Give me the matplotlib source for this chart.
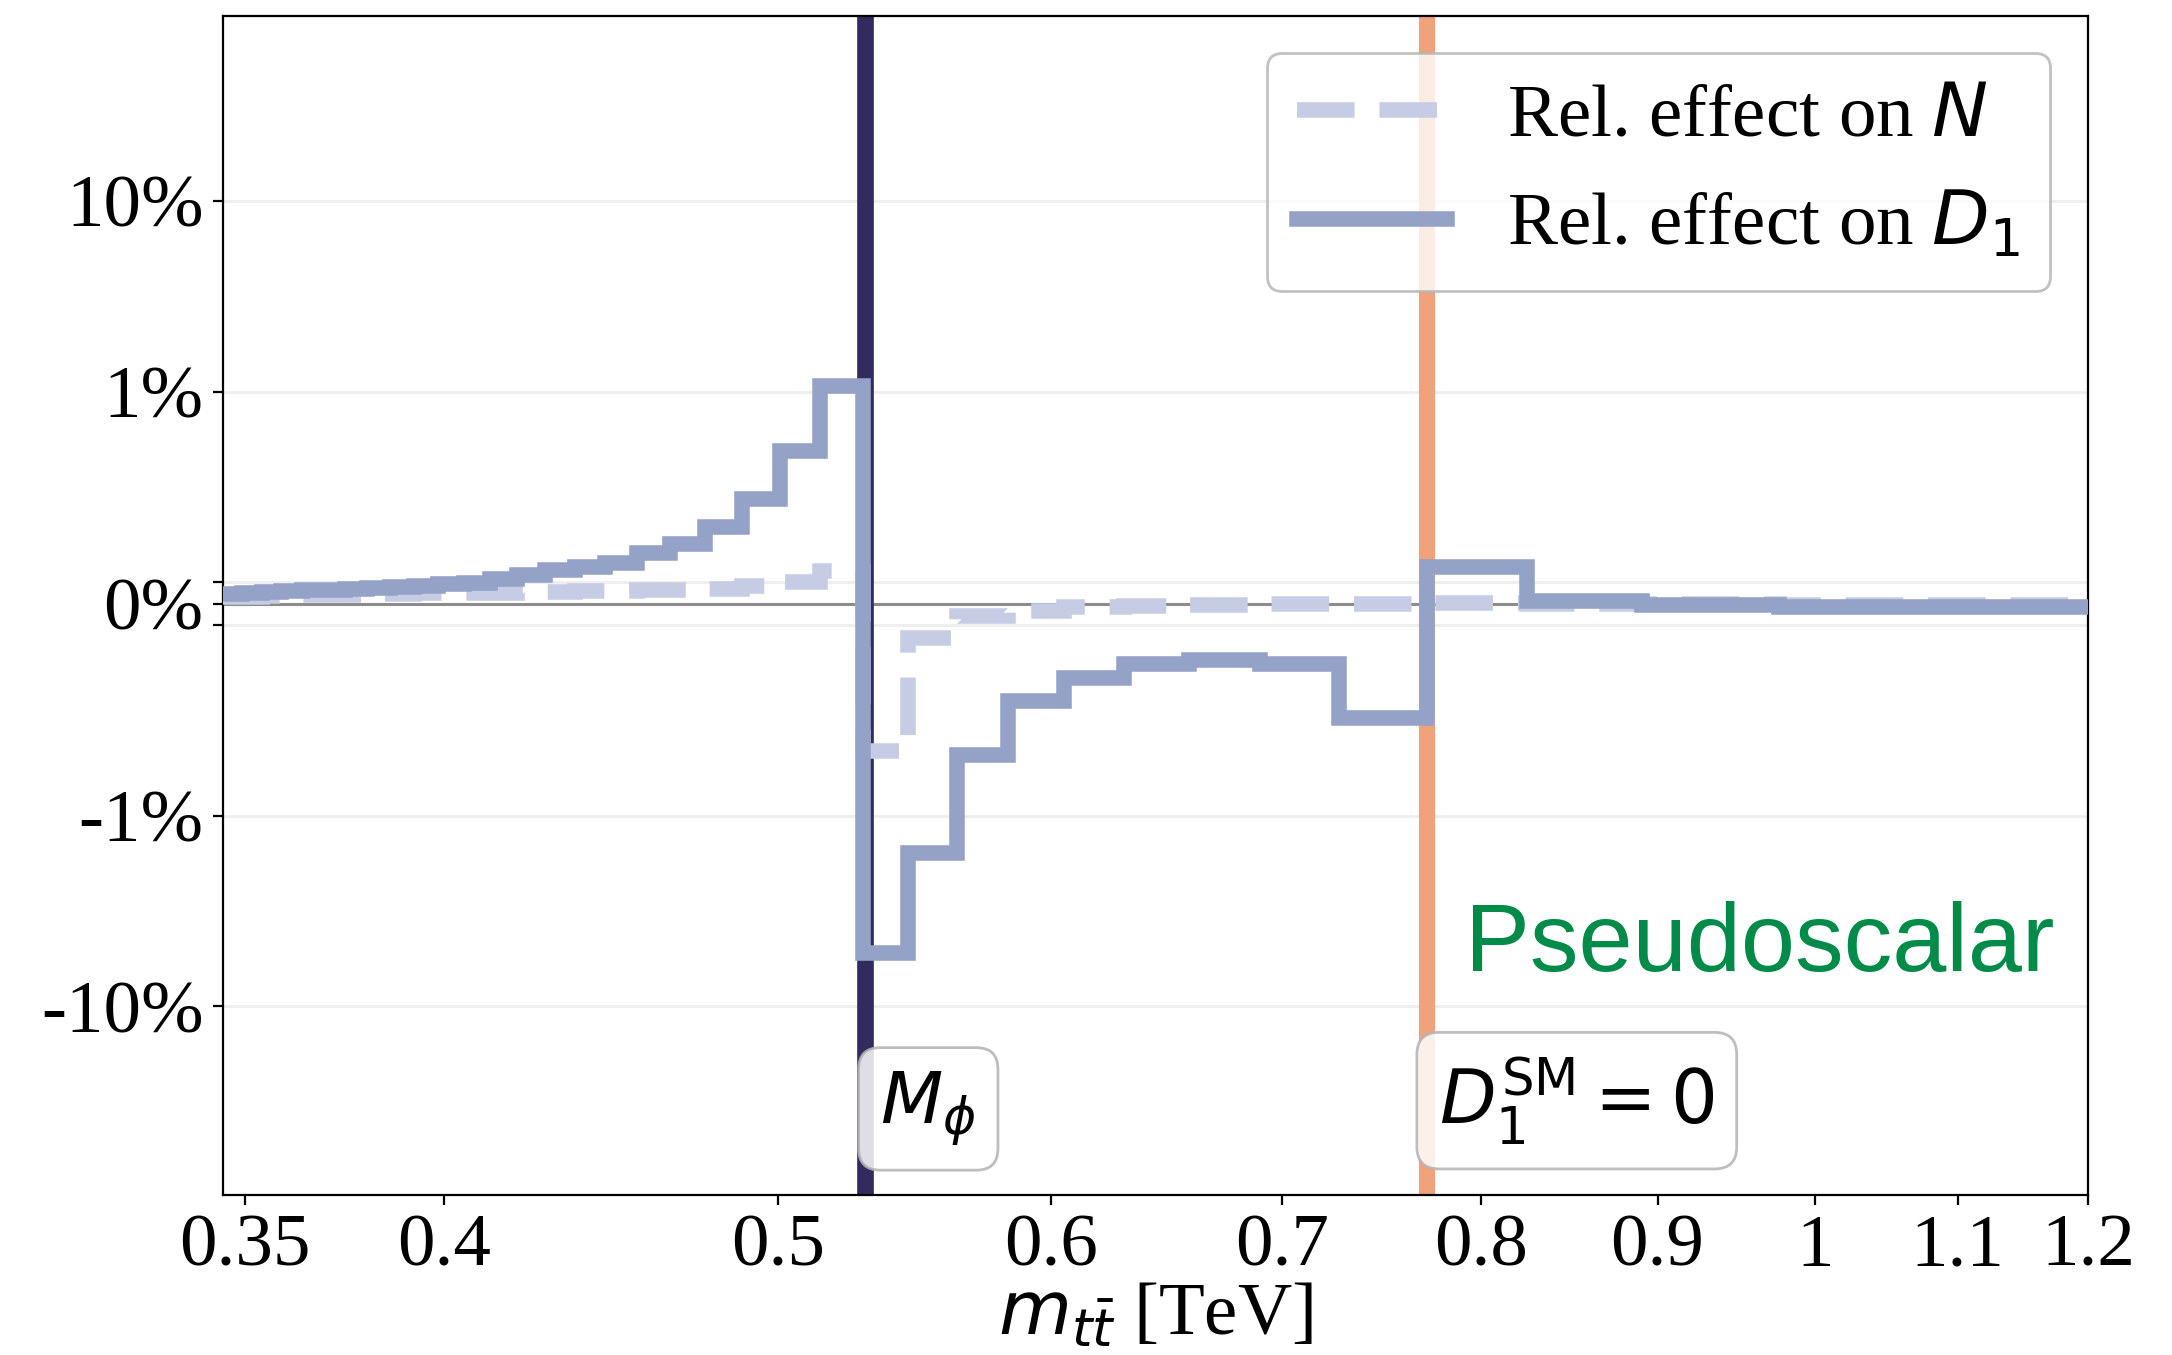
import numpy as np
import matplotlib
matplotlib.use('Agg')
import matplotlib.pyplot as plt
from matplotlib.ticker import NullLocator
import matplotlib.transforms as mtransforms

plt.rcParams['font.family'] = 'serif'
plt.rcParams['font.serif'] = ['Liberation Serif', 'DejaVu Serif']
plt.rcParams['mathtext.fontset'] = 'dejavusans'

# bin edges in m_tt [TeV]
edges = [0.345, 0.3494, 0.354, 0.3587, 0.3637, 0.3688, 0.3742, 0.3798, 0.3857,
         0.3919, 0.3984, 0.4052, 0.4124, 0.4199, 0.4279, 0.4364, 0.4454, 0.455,
         0.4652, 0.4761, 0.4879, 0.5006, 0.5143, 0.5292, 0.5455, 0.5634, 0.5832,
         0.6052, 0.6299, 0.6579, 0.69, 0.7273, 0.7715, 0.8247, 0.8908, 0.9758,
         1.091, 1.26]

# relative effect on D_1
rel_D1 = [0.00045, 0.0005, 0.00054, 0.00058, 0.00062, 0.00066, 0.0007, 0.00075,
          0.0008, 0.00085, 0.0009, 0.00098, 0.00104, 0.00109, 0.00116, 0.0012,
          0.00127, 0.00142, 0.00158, 0.00194, 0.00272, 0.0049, 0.0107,
          -0.0526, -0.0157, -0.0048, -0.0025, -0.0019, -0.0016, -0.00153,
          -0.0016, -0.0031, 0.00121, 0.0001, -0.00008, -0.00016, -0.00016]

# relative effect on N
rel_N = [0.0003, 0.00032, 0.00034, 0.00036, 0.00038, 0.0004, 0.00042, 0.00044,
         0.00046, 0.00048, 0.0005, 0.00051, 0.00052, 0.00054, 0.00056, 0.00058,
         0.0006, 0.00062, 0.00066, 0.0007, 0.00081, 0.00101, 0.00115,
         -0.0046, -0.00118, -0.00058, -0.00035, -0.00015, -0.0001, -0.00006,
         -0.00004, -0.00002, 0.00002, 0.0, -0.00004, -0.00006, -0.00006]

M_phi = 0.53
m_D1_zero = 0.7715

xticks = [0.35, 0.4, 0.5, 0.6, 0.7, 0.8, 0.9, 1, 1.1, 1.2]
xticklabels = ['0.35', '0.4', '0.5', '0.6', '0.7', '0.8', '0.9', '1', '1.1', '1.2']
yticks = [-0.1, -0.01, -0.001, 0, 0.001, 0.01, 0.1]
yticklabels = ['-10%', '-1%', '', '0%', '', '1%', '10%']

fig = plt.figure(figsize=(10.86, 6.775), dpi=200)
ax = fig.add_axes([0.1027, 0.1181, 0.8586, 0.8701])

ax.set_xscale('log')
ax.set_yscale('symlog', linthresh=1e-3, linscale=0.1)

ax.axvline(M_phi, color='#322B60', lw=6, zorder=2)
ax.axvline(m_D1_zero, color='#F0A27A', lw=5.8, zorder=2)
ax.axhline(0, color='#8c8c8c', lw=1.1, zorder=1)

ax.stairs(rel_N, edges, baseline=None, color='#C6CCE3', lw=5.6, ls='--',
          zorder=3, label='Rel. effect on $N$')
ax.stairs(rel_D1, edges, baseline=None, color='#95A2C8', lw=5.6,
          zorder=4, label='Rel. effect on $D_1$')

ax.set_xlim(0.345, 1.2)
ax.set_ylim(-0.975, 0.93)

ax.set_xticks(xticks)
ax.set_xticklabels(xticklabels)
ax.xaxis.set_minor_locator(NullLocator())
ax.set_yticks(yticks)
ax.set_yticklabels(yticklabels)
ax.yaxis.set_minor_locator(NullLocator())
ax.tick_params(labelsize=27)
ax.grid(axis='y', color='#eeeeee', lw=1.0, zorder=0)
ax.set_axisbelow(True)

ax.set_xlabel(r'$m_{t\bar{t}}$ [TeV]', fontsize=27, labelpad=0)

ax.legend(loc='upper right', fontsize=27, framealpha=0.8, edgecolor='0.7')

trans = mtransforms.blended_transform_factory(ax.transData, ax.transAxes)
ax.text(M_phi * 1.01, 0.073, r'$M_\phi$', transform=trans, fontsize=26,
        ha='left', va='center', zorder=6,
        bbox=dict(boxstyle='round,pad=0.3', fc='white', ec='0.7', alpha=0.85))
ax.text(m_D1_zero * 1.008, 0.08, r'$D_1^{\rm SM} = 0$', transform=trans, fontsize=26.5,
        ha='left', va='center', zorder=6,
        bbox=dict(boxstyle='round,pad=0.3', fc='white', ec='0.7', alpha=0.85))

ax.text(0.9818, 0.1896, 'Pseudoscalar', transform=ax.transAxes, color='#008C48',
        fontsize=35, family='Liberation Sans', ha='right', va='baseline')

fig.savefig('out.png', dpi=200)
